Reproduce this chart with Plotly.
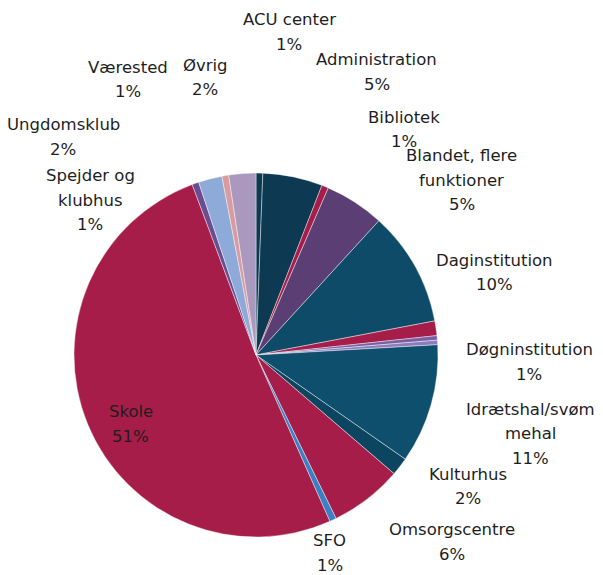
import math
import plotly.graph_objects as go

# ---- data (clockwise from 12 o'clock) ----
categories = [
    "ACU center", "Administration", "Bibliotek", "Blandet, flere funktioner",
    "Daginstitution", "Døgninstitution", "Ikke angivet A", "Ikke angivet B",
    "Idrætshal/svømmehal", "Kulturhus", "Omsorgscentre", "SFO", "Skole",
    "Spejder og klubhus", "Ungdomsklub", "Værested", "Øvrig",
]
shares = [0.6, 5.3, 0.6, 5.3, 10.2, 1.3, 0.4, 0.4, 10.6, 1.6, 6.45, 0.6,
          50.95, 0.6, 2.1, 0.6, 2.4]
# label text lines as printed (None = slice left unlabeled)
label_lines = [
    ["ACU center"], ["Administration"], ["Bibliotek"], ["Blandet, flere", "funktioner"],
    ["Daginstitution"], ["Døgninstitution"], None, None,
    ["Idrætshal/svøm", "mehal"], ["Kulturhus"], ["Omsorgscentre"], ["SFO"], ["Skole"],
    ["Spejder og", "klubhus"], ["Ungdomsklub"], ["Værested"], ["Øvrig"],
]

# ---- styles ----
colors = [
    "#0d3a52", "#0d3a52", "#a51d48", "#5b3e74", "#0e4b68", "#a51d48",
    "#7a5fa3", "#8d7cbc", "#0f4f6e", "#0c4560", "#a51d48", "#3b7fc4",
    "#a51d48", "#6b4c8e", "#8eaad8", "#d99ba0", "#aa98be",
]
# pixel shift of each label block from the outer midpoint of its slice
label_shift = [
    (30, -141), (84, -105), (79, -57), (107, -22), (80, 6), (93, 34),
    None, None, (99, 29), (68, 20), (85, 43), (-3, 33), (43, 0),
    (-105, 17), (-147, -42), (-97, -96), (-37, -96),
]
LINE_H = 24.5
FONT = dict(family="DejaVu Sans", size=16.5, color="#1e1e1e")

W, H = 603, 575
CX, CY, R = 256, 355, 182  # pie centre / radius in pixels

fig = go.Figure(go.Pie(
    labels=categories,
    values=shares,
    sort=False,
    direction="clockwise",
    rotation=0,
    marker=dict(colors=colors, line=dict(color="rgba(255,255,255,0.6)", width=0.7)),
    textinfo="none",
    hovertemplate="%{label}<br>%{percent}<extra></extra>",
    domain=dict(x=[(CX - R) / W, (CX + R) / W], y=[1 - (CY + R) / H, 1 - (CY - R) / H]),
    showlegend=False,
))

total = sum(shares)
annotations = []
cum = 0.0
for name, v, lines, sh in zip(categories, shares, label_lines, label_shift):
    mid = (cum + v / 2) / total * 2 * math.pi
    cum += v
    if lines is None:
        continue
    px = CX + R * math.sin(mid)
    py = CY - R * math.cos(mid)
    pct = round(v / total * 100)
    all_lines = lines + [f"{pct}%"]
    n = len(all_lines)
    for i, line in enumerate(all_lines):
        dy = sh[1] + (i - (n - 1) / 2) * LINE_H
        annotations.append(dict(
            x=px / W, y=1 - py / H, xref="paper", yref="paper",
            xshift=sh[0], yshift=-dy,
            text=line, showarrow=False,
            xanchor="center", yanchor="middle", align="center",
            font=FONT,
        ))

fig.update_layout(
    width=W, height=H,
    margin=dict(l=0, r=0, t=0, b=0),
    paper_bgcolor="white", plot_bgcolor="white",
    annotations=annotations,
)

fig.write_html("out.html", post_script="document.body.style.margin='0';",
               config={"displayModeBar": False})
